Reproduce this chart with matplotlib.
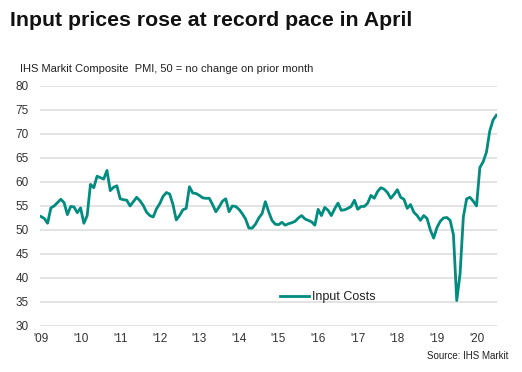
import numpy as np
import matplotlib
matplotlib.use("Agg")
import matplotlib.pyplot as plt

plt.rcParams['font.family'] = ['Liberation Sans', 'DejaVu Sans']

# Monthly input costs index, Jan '09 onwards
start_year = 2009
input_costs = [
    52.8, 52.4, 51.4, 54.6, 55.0, 55.7, 56.4, 55.7, 53.2, 54.9, 54.8, 53.6,
    54.6, 51.4, 53.0, 59.5, 58.8, 61.2, 60.9, 60.6, 62.4, 58.2, 58.9, 59.2,
    56.5, 56.3, 56.2, 55.0, 55.9, 56.8, 56.1, 55.1, 53.7, 53.0, 52.7, 54.4,
    55.5, 57.0, 57.8, 57.5, 55.3, 52.1, 53.0, 54.2, 54.5, 59.0, 57.7, 57.6,
    57.2, 56.7, 56.6, 56.6, 55.3, 53.8, 54.8, 56.0, 56.5, 53.8, 55.0, 54.9,
    54.3, 53.4, 52.3, 50.4, 50.4, 51.2, 52.5, 53.4, 55.9, 53.8, 52.0, 51.2,
    51.1, 51.6, 51.0, 51.3, 51.5, 51.8, 52.5, 53.0, 52.3, 52.0, 51.7, 51.0,
    54.3, 53.0, 54.7, 54.1, 53.0, 54.4, 55.6, 54.1, 54.2, 54.5, 54.9, 56.2,
    54.3, 54.9, 54.9, 55.6, 57.2, 56.6, 58.0, 58.8, 58.5, 57.8, 56.6, 57.4,
    58.4, 56.8, 56.4, 54.5, 55.3, 53.7, 53.0, 52.0, 53.0, 52.4, 50.0, 48.3,
    50.5, 51.8, 52.5, 52.6, 52.0, 49.0, 35.3, 40.8, 52.7, 56.5, 56.8, 56.0,
    55.0, 63.0, 64.2, 66.2, 70.6, 72.9, 73.9,
]
tick_years = list(range(2009, 2021))
tick_labels = ["'%02d" % (y % 100) for y in tick_years]
y_ticks = list(range(30, 85, 5))

months = np.arange(len(input_costs))
xvals = start_year + months / 12.0

fig = plt.figure(figsize=(5.22, 3.72), dpi=100)
ax = fig.add_axes([0.0766, 0.1237, 0.8755, 0.6452])

ax.plot(xvals, input_costs, color="#008C7E", lw=2.0, label="Input Costs",
        solid_joinstyle="round", zorder=3)

ax.set_xlim(start_year - 0.025, start_year + 138.2 / 12.0)
ax.set_ylim(30, 80)
ax.set_yticks(y_ticks)
ax.set_xticks(tick_years)
ax.set_xticklabels(tick_labels)
ax.grid(axis="y", color="#dedede", lw=1.2, zorder=0)
for sp in ax.spines.values():
    sp.set_visible(False)
ax.tick_params(axis="both", length=0, labelsize=8.5, colors="#333333")
ax.tick_params(axis="x", pad=5)
ax.tick_params(axis="y", pad=8)

leg = ax.legend(loc="center", bbox_to_anchor=(0.63, 0.12), frameon=False,
                fontsize=9, handlelength=2.25, handletextpad=0.25)
for t in leg.get_texts():
    t.set_color("#222222")

fig.text(0.019, 0.945, "Input prices rose at record pace in April",
         fontsize=15.3, fontweight="bold", color="#111111", va="center")
fig.text(0.038, 0.815, "IHS Markit Composite  PMI, 50 = no change on prior month",
         fontsize=8, color="#222222", va="center")
fig.text(0.973, 0.043, "Source: IHS Markit", fontsize=7, color="#222222",
         ha="right", va="center")

fig.savefig("out.png", dpi=100)
